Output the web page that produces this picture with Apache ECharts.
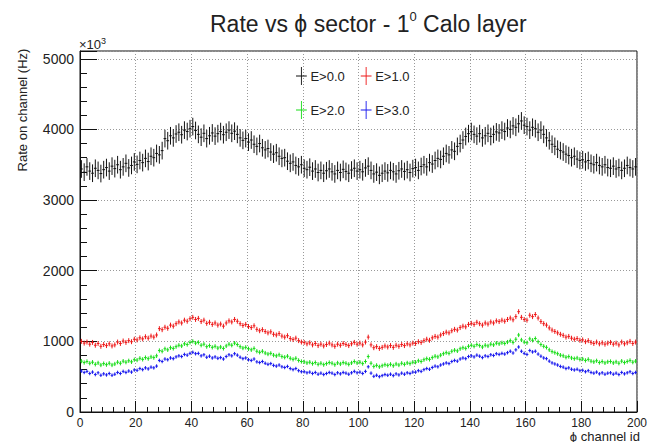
<!DOCTYPE html>
<html>
<head>
<meta charset="utf-8">
<script src="https://cdn.jsdelivr.net/npm/echarts@6/dist/echarts.min.js"></script>
<style>
  html, body { margin: 0; padding: 0; background: #fff; }
  #chart { width: 650px; height: 442px; }
</style>
</head>
<body>
<div id="chart"></div>
<script>
// Rate per phi channel (Hz, in units of 10^3) for four energy thresholds, channels 0..199
const rateE0 = [
  3440, 3395, 3470, 3410, 3380, 3450, 3420, 3375, 3430, 3460,
  3410, 3480, 3445, 3500, 3430, 3470, 3520, 3455, 3490, 3540,
  3505, 3560, 3530, 3590, 3545, 3620, 3600, 3660, 3640, 3700,
  3870, 3840, 3910, 3880, 3935, 3960, 3925, 3990, 3970, 4010,
  4040, 3985, 3930, 3890, 3945, 3870, 3910, 3950, 3905, 3940,
  3970, 3925, 3960, 3990, 3945, 3975, 3930, 3880, 3845, 3870,
  3820, 3850, 3790, 3760, 3800, 3740, 3710, 3730, 3680, 3650,
  3670, 3620, 3590, 3600, 3550, 3520, 3540, 3490, 3470, 3500,
  3450, 3430, 3465, 3410, 3440, 3390, 3420, 3380, 3415, 3440,
  3400, 3370, 3420, 3390, 3435, 3405, 3380, 3425, 3450, 3410,
  3430, 3400, 3455, 3480, 3420, 3370, 3395, 3350, 3380, 3410,
  3385, 3420, 3400, 3370, 3415, 3440, 3405, 3430, 3390, 3445,
  3460, 3420, 3475, 3500, 3470, 3530, 3510, 3560, 3590, 3575,
  3620, 3660, 3640, 3710, 3690, 3760, 3800, 3850, 3900, 3940,
  3970, 3930, 3905, 3940, 3880, 3910, 3945, 3900, 3930, 3965,
  3950, 3990, 3970, 4020, 4000, 4050, 4030, 4080, 4120, 4060,
  4040, 3990, 4030, 4010, 3960, 3990, 3930, 3880, 3840, 3790,
  3760, 3720, 3700, 3680, 3650, 3630, 3600, 3620, 3580, 3560,
  3570, 3540, 3560, 3520, 3500, 3530, 3490, 3470, 3500, 3460,
  3450, 3480, 3440, 3460, 3420, 3450, 3490, 3460, 3440, 3470
];
const rateE1 = [
  1000, 975, 990, 960, 985, 945, 970, 930, 955, 940,
  965, 935, 950, 990, 970, 1005, 985, 1010, 995, 1030,
  1020, 1050, 1035, 1065, 1045, 1075, 1060, 1090, 1180, 1165,
  1200, 1185, 1230, 1215, 1250, 1275, 1260, 1300, 1285, 1320,
  1340, 1310, 1325, 1280, 1300, 1255, 1270, 1240, 1260, 1230,
  1245, 1215, 1260, 1290, 1275, 1310, 1285, 1250, 1225, 1240,
  1210, 1195, 1220, 1170, 1150, 1165, 1140, 1120, 1135, 1100,
  1090, 1110, 1075, 1060, 1080, 1040, 1025, 1045, 1010, 990,
  985, 965, 980, 950, 970, 940, 960, 935, 955, 975,
  950, 930, 960, 945, 970, 955, 940, 965, 985, 960,
  975, 950, 990, 1060, 950, 910, 925, 900, 915, 935,
  920, 940, 915, 945, 930, 955, 940, 965, 950, 975,
  970, 995, 985, 1010, 1030, 1015, 1050, 1070, 1060, 1090,
  1110, 1130, 1120, 1150, 1170, 1160, 1195, 1215, 1205, 1240,
  1255, 1240, 1270, 1250, 1230, 1260, 1245, 1275, 1260, 1290,
  1280, 1300, 1285, 1310, 1330, 1305, 1350, 1420, 1340, 1310,
  1300, 1370, 1350, 1380, 1330, 1280, 1250, 1230, 1190, 1160,
  1140, 1120, 1100, 1085, 1060, 1070, 1045, 1030, 1040, 1015,
  1020, 995, 1010, 985, 970, 990, 965, 980, 960, 975,
  985, 960, 975, 950, 990, 965, 980, 1000, 970, 990
];
const rateE2 = [
  720, 700, 715, 690, 705, 675, 695, 665, 685, 670,
  690, 665, 680, 705, 690, 720, 705, 725, 710, 740,
  735, 760, 745, 770, 755, 780, 770, 795, 870, 860,
  895, 880, 910, 900, 925, 945, 935, 965, 955, 985,
  1000, 975, 985, 945, 960, 925, 940, 915, 930, 905,
  920, 900, 935, 960, 945, 975, 955, 925, 905, 915,
  895, 880, 900, 860, 845, 860, 835, 820, 830, 805,
  795, 810, 785, 775, 790, 760, 745, 760, 730, 715,
  710, 695, 705, 685, 700, 675, 690, 670, 685, 700,
  690, 670, 695, 680, 700, 690, 675, 695, 715, 695,
  705, 685, 715, 785, 690, 645, 660, 640, 655, 670,
  660, 675, 655, 680, 665, 690, 675, 695, 685, 705,
  705, 725, 715, 740, 755, 745, 770, 790, 780, 805,
  825, 840, 830, 860, 875, 865, 895, 910, 900, 930,
  945, 930, 955, 940, 920, 945, 935, 960, 950, 975,
  965, 980, 970, 990, 1010, 985, 1030, 1090, 1020, 990,
  980, 1035, 1015, 1040, 995, 955, 930, 915, 880, 855,
  840, 825, 805, 795, 775, 785, 765, 755, 765, 745,
  750, 730, 745, 720, 710, 725, 700, 715, 695, 710,
  715, 695, 710, 690, 720, 700, 715, 730, 705, 720
];
const rateE3 = [
  580, 560, 575, 545, 565, 530, 555, 520, 540, 525,
  545, 520, 535, 560, 545, 575, 560, 580, 565, 595,
  590, 615, 600, 625, 610, 635, 625, 650, 730, 715,
  750, 740, 765, 755, 780, 795, 785, 815, 805, 830,
  845, 825, 830, 795, 810, 775, 790, 765, 780, 760,
  770, 750, 785, 810, 795, 825, 805, 775, 755, 765,
  740, 730, 750, 710, 700, 715, 690, 675, 685, 660,
  650, 665, 640, 630, 645, 615, 600, 615, 585, 570,
  570, 555, 565, 545, 560, 535, 550, 530, 545, 560,
  550, 530, 555, 540, 560, 550, 535, 555, 575, 555,
  565, 545, 575, 640, 550, 505, 520, 500, 515, 530,
  520, 535, 515, 540, 525, 550, 535, 555, 545, 565,
  565, 585, 575, 600, 615, 605, 630, 650, 640, 665,
  680, 695, 685, 715, 730, 720, 750, 765, 755, 785,
  795, 780, 805, 790, 770, 795, 785, 810, 800, 825,
  815, 830, 820, 840, 860, 835, 880, 920, 860, 830,
  815, 870, 850, 860, 820, 790, 765, 755, 720, 695,
  680, 665, 645, 635, 615, 625, 605, 595, 605, 585,
  590, 570, 585, 560, 550, 565, 540, 555, 535, 550,
  555, 535, 550, 530, 560, 540, 555, 570, 545, 560
];
// Statistical uncertainty on each bin, per threshold
const errE0 = 125;
const errE1 = 35;
const errE2 = 30;
const errE3 = 25;

const seriesNames = ['E>0.0', 'E>1.0', 'E>2.0', 'E>3.0'];
const seriesColors = ['#111111', '#ee1818', '#18dd18', '#1818ee'];
const xTicks = [0, 20, 40, 60, 80, 100, 120, 140, 160, 180, 200];
const yTicks = [0, 1000, 2000, 3000, 4000, 5000];

const chart = echarts.init(document.getElementById('chart'), null, { renderer: 'svg' });

// One bin = one unit of channel id; points sit at bin centres
function toBins(values, err) {
  return values.map((v, i) => [i + 0.5, v, err]);
}

function errorBarRenderer(color) {
  return function (params, api) {
    const x = api.value(0), y = api.value(1), e = api.value(2);
    const hi = api.coord([x, y + e]);
    const lo = api.coord([x, y - e]);
    const l = api.coord([x - 0.5, y]);
    const r = api.coord([x + 0.5, y]);
    const st = { stroke: color, lineWidth: 1 };
    return {
      type: 'group',
      children: [
        { type: 'line', shape: { x1: hi[0], y1: hi[1], x2: lo[0], y2: lo[1] }, style: st },
        { type: 'line', shape: { x1: l[0], y1: l[1], x2: r[0], y2: r[1] }, style: st }
      ]
    };
  };
}

const allRates = [rateE0, rateE1, rateE2, rateE3];
const allErrs = [errE0, errE1, errE2, errE3];
const series = allRates.map((vals, k) => ({
  name: seriesNames[k],
  type: 'custom',
  renderItem: errorBarRenderer(seriesColors[k]),
  itemStyle: { color: seriesColors[k] },
  encode: { x: 0, y: 1 },
  data: toBins(vals, allErrs[k]),
  silent: true,
  animation: false,
  z: 10 - k
}));

const crossIcon = 'path://M5.5,0 h1 v9.5 h5.5 v1 h-5.5 v9.5 h-1 v-9.5 h-5.5 v-1 h5.5 z';

const FONT = 'Liberation Sans, Arial, sans-serif';

chart.setOption({
  animation: false,
  backgroundColor: '#fff',
  title: {
    text: 'Rate vs ϕ sector - 1{sup|0} Calo layer',
    left: 205,
    top: 5,
    textStyle: {
      fontFamily: FONT,
      fontSize: 23,
      fontWeight: 'normal',
      color: '#222',
      lineHeight: 28,
      rich: {
        sup: { fontSize: 13, verticalAlign: 'top', lineHeight: 28, color: '#222', fontFamily: FONT }
      }
    }
  },
  legend: {
    left: 291,
    top: 62,
    width: 150,
    orient: 'horizontal',
    itemWidth: 12,
    itemHeight: 18,
    itemGap: 16,
    textStyle: { fontFamily: FONT, fontSize: 13, color: '#222', padding: [0, 0, 0, -2] },
    data: seriesNames.map(n => ({ name: n, icon: crossIcon })),
    selectedMode: false
  },
  grid: {
    left: 80, right: 10, top: 51, bottom: 30,
    show: true, borderColor: '#111', borderWidth: 1
  },
  xAxis: {
    type: 'value',
    min: xTicks[0],
    max: xTicks[xTicks.length - 1],
    interval: 20,
    axisLine: { lineStyle: { color: '#111' } },
    axisTick: { inside: true, length: 11, lineStyle: { color: '#111' } },
    minorTick: { show: true, splitNumber: 5, length: 5, lineStyle: { color: '#111' } },
    splitLine: { show: true, lineStyle: { color: '#999', type: [1, 2], width: 1 } },
    axisLabel: { margin: 5, fontFamily: FONT, fontSize: 12, color: '#222' }
  },
  yAxis: {
    type: 'value',
    min: yTicks[0],
    max: 5110,
    interval: 1000,
    axisLine: { show: true, lineStyle: { color: '#111' } },
    axisTick: { show: true, inside: true, length: 17, lineStyle: { color: '#111' } },
    minorTick: { show: true, splitNumber: 5, length: 7, lineStyle: { color: '#111' } },
    splitLine: { show: true, lineStyle: { color: '#999', type: [1, 2], width: 1 } },
    axisLabel: {
      margin: 6, fontFamily: FONT, fontSize: 14, color: '#222',
      formatter: v => (yTicks.indexOf(v) >= 0 ? String(v) : '')
    }
  },
  graphic: [
    {
      type: 'text', left: 79, top: 36,
      style: {
        text: '×10{sup|3}',
        fontFamily: FONT, fontSize: 13, fill: '#222',
        lineHeight: 16,
        rich: { sup: { fontSize: 9, verticalAlign: 'top', lineHeight: 16, fill: '#222' } }
      }
    },
    {
      type: 'text', x: 22, y: 110, rotation: Math.PI / 2,
      style: {
        text: 'Rate on channel (Hz)',
        fontFamily: FONT, fontSize: 13, fill: '#222',
        textAlign: 'center', textVerticalAlign: 'middle'
      }
    },
    {
      type: 'text', x: 640, y: 436,
      style: {
        text: 'ϕ channel id',
        fontFamily: FONT, fontSize: 13, fill: '#222',
        textAlign: 'right', textVerticalAlign: 'middle'
      }
    }
  ],
  series: series
});
</script>
</body>
</html>
